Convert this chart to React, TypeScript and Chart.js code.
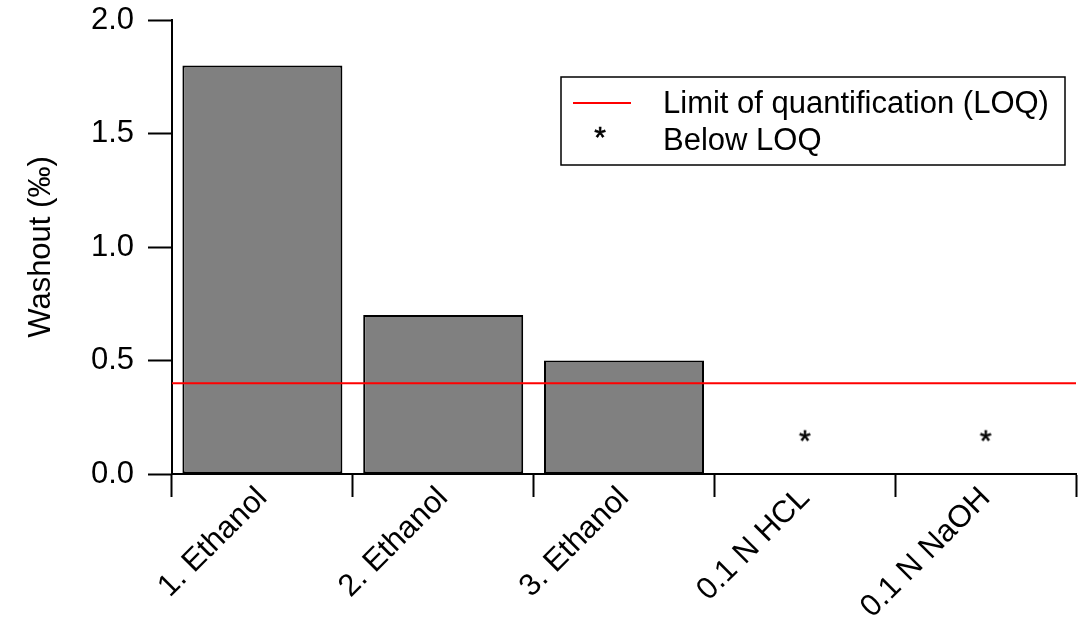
import React, { useEffect, useRef } from "react";
import { Chart, registerables } from "chart.js";

Chart.register(...registerables);

const categories = ["1. Ethanol", "2. Ethanol", "3. Ethanol", "0.1 N HCL", "0.1 N NaOH"];
const washout = [1.8, 0.7, 0.5, null, null];
const belowLoq = [null, null, null, 0.17, 0.17];
const loqValue = 0.4;
const yTicks = [0, 0.5, 1.0, 1.5, 2.0];
const legendLabels = ["Limit of quantification (LOQ)", "Below LOQ"];

const FONT = "'Liberation Sans', Arial, Helvetica, sans-serif";
const FS = 31;

function makeAsterisk(size: number): HTMLCanvasElement {
  const c = document.createElement("canvas");
  const w = Math.ceil(size * 0.6);
  c.width = w;
  c.height = w;
  const ctx = c.getContext("2d")!;
  ctx.font = `${size}px ${FONT}`;
  ctx.fillStyle = "#000";
  ctx.strokeStyle = "#000";
  ctx.lineWidth = 0.6;
  ctx.textAlign = "center";
  ctx.textBaseline = "alphabetic";
  const m = ctx.measureText("*");
  const asc = m.actualBoundingBoxAscent;
  const desc = m.actualBoundingBoxDescent;
  const y = w / 2 + (asc - desc) / 2;
  ctx.fillText("*", w / 2, y);
  ctx.strokeText("*", w / 2, y);
  return c;
}

export default function App() {
  const ref = useRef<HTMLCanvasElement | null>(null);

  useEffect(() => {
    document.body.style.margin = "0";
    const canvas = ref.current!;
    const star = makeAsterisk(30);

    const legendPlugin = {
      id: "customLegend",
      afterDraw(chart: any) {
        const ctx = chart.ctx as CanvasRenderingContext2D;
        ctx.save();
        ctx.strokeStyle = "#000";
        ctx.lineWidth = 1.5;
        ctx.strokeRect(561, 77, 504, 88);
        ctx.strokeStyle = "#ff0000";
        ctx.lineWidth = 2;
        ctx.beginPath();
        ctx.moveTo(573, 103);
        ctx.lineTo(631, 103);
        ctx.stroke();
        ctx.drawImage(star, 600 - star.width / 2, 132 - star.height / 2);
        ctx.fillStyle = "#000";
        ctx.font = `${FS}px ${FONT}`;
        ctx.textAlign = "left";
        ctx.textBaseline = "middle";
        ctx.fillText(legendLabels[0], 663, 104);
        ctx.fillText(legendLabels[1], 663, 141);
        ctx.restore();
      },
    };

    const chart = new Chart(canvas, {
      type: "bar",
      data: {
        labels: categories,
        datasets: [
          {
            type: "bar",
            label: "Washout",
            data: washout as any,
            backgroundColor: "#808080",
            borderColor: "#000000",
            borderWidth: 2,
            borderSkipped: false,
            grouped: false,
            barPercentage: 0.885,
            categoryPercentage: 1.0,
            order: 2,
          },
          {
            type: "line",
            label: legendLabels[0],
            data: [
              { x: 0, y: loqValue },
              { x: categories.length, y: loqValue },
            ] as any,
            xAxisID: "x2",
            borderColor: "#ff0000",
            borderWidth: 2,
            pointRadius: 0,
            fill: false,
            order: 1,
          },
          {
            type: "line",
            label: legendLabels[1],
            data: belowLoq as any,
            showLine: false,
            pointStyle: star as any,
            pointRadius: 6,
            order: 0,
          },
        ],
      },
      options: {
        responsive: false,
        animation: false,
        layout: { padding: { top: 20, right: 4, left: 0, bottom: 0 } },
        plugins: {
          legend: { display: false },
          tooltip: { enabled: false },
        },
        scales: {
          x: {
            type: "category",
            offset: true,
            grid: {
              offset: true,
              drawOnChartArea: false,
              drawTicks: true,
              tickLength: 23,
              tickColor: "#000",
              tickWidth: 2,
            },
            border: { display: true, color: "#000", width: 2 },
            ticks: {
              color: "#000",
              font: { family: FONT, size: FS },
              minRotation: 45,
              maxRotation: 45,
              padding: -17,
              autoSkip: false,
            },
            afterFit(scale: any) {
              scale.height = 143;
            },
          },
          x2: {
            type: "linear",
            display: false,
            offset: false,
            grid: { offset: false },
            min: 0,
            max: categories.length,
          },
          y: {
            type: "linear",
            min: 0,
            max: 2,
            afterBuildTicks(scale: any) {
              scale.ticks = yTicks.map((v) => ({ value: v }));
            },
            grid: {
              drawOnChartArea: false,
              drawTicks: true,
              tickLength: 24,
              tickColor: "#000",
              tickWidth: 2,
            },
            border: { display: true, color: "#000", width: 2 },
            ticks: {
              color: "#000",
              font: { family: FONT, size: FS },
              padding: 14,
              callback: (v: any) => Number(v).toFixed(1),
            },
            title: {
              display: true,
              text: "Washout (‰)",
              color: "#000",
              font: { family: FONT, size: FS },
              padding: { top: 23, bottom: 0 },
            },
            afterFit(scale: any) {
              scale.width = 172;
              scale.paddingTop = 0;
              scale.paddingBottom = 0;
            },
          },
        },
      },
      plugins: [legendPlugin],
    });

    return () => chart.destroy();
  }, []);

  return (
    <div style={{ width: 1083, height: 617, background: "#fff" }}>
      <canvas ref={ref} width={1083} height={617} style={{ display: "block" }} />
    </div>
  );
}
